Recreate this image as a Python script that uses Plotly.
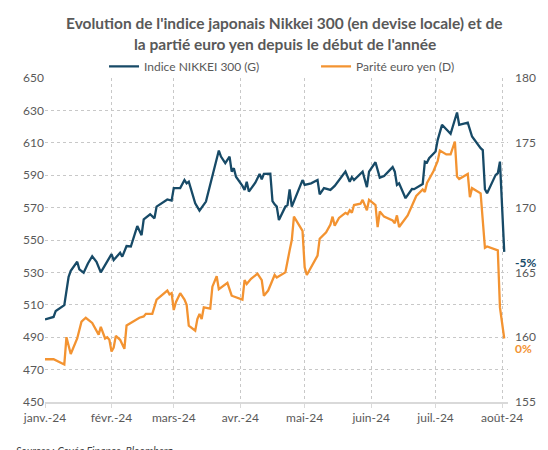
import plotly.graph_objects as go

# ---------------- data ----------------
nikkei_dates = [
    "2024-01-01", "2024-01-05", "2024-01-06", "2024-01-10", "2024-01-12", "2024-01-13",
    "2024-01-16", "2024-01-17", "2024-01-19", "2024-01-21", "2024-01-23", "2024-01-25",
    "2024-01-27", "2024-01-29", "2024-01-30", "2024-02-01", "2024-02-02", "2024-02-05",
    "2024-02-06", "2024-02-08", "2024-02-10", "2024-02-13", "2024-02-15", "2024-02-16",
    "2024-02-19", "2024-02-21", "2024-02-22", "2024-02-27", "2024-02-29", "2024-03-01",
    "2024-03-04", "2024-03-06", "2024-03-07", "2024-03-08", "2024-03-11", "2024-03-13",
    "2024-03-16", "2024-03-18", "2024-03-20", "2024-03-22", "2024-03-23", "2024-03-25",
    "2024-03-27", "2024-03-28", "2024-03-29", "2024-03-30", "2024-04-02", "2024-04-03",
    "2024-04-04", "2024-04-05", "2024-04-08", "2024-04-10", "2024-04-11", "2024-04-12",
    "2024-04-15", "2024-04-16", "2024-04-17", "2024-04-18", "2024-04-19", "2024-04-22",
    "2024-04-23", "2024-04-24", "2024-04-25", "2024-04-30", "2024-05-01", "2024-05-04",
    "2024-05-07", "2024-05-08", "2024-05-10", "2024-05-13", "2024-05-15", "2024-05-20",
    "2024-05-22", "2024-05-23", "2024-05-24", "2024-05-28", "2024-05-30", "2024-05-31",
    "2024-06-03", "2024-06-05", "2024-06-07", "2024-06-11", "2024-06-12", "2024-06-13",
    "2024-06-14", "2024-06-17", "2024-06-20", "2024-06-21", "2024-06-25", "2024-06-26",
    "2024-06-27", "2024-06-28", "2024-07-01", "2024-07-02", "2024-07-04", "2024-07-08",
    "2024-07-11", "2024-07-12", "2024-07-16", "2024-07-18", "2024-07-22", "2024-07-23",
    "2024-07-24", "2024-07-25", "2024-07-29", "2024-07-30", "2024-07-31", "2024-08-02",
]
nikkei_values = [
    501.0, 502.5, 506.2, 509.8, 527.3, 531.0,
    536.6, 531.9, 529.8, 535.5, 540.0, 536.6,
    530.0, 534.5, 536.6, 541.3, 537.6, 542.1,
    539.7, 546.3, 546.0, 558.6, 553.0, 562.8,
    565.9, 563.4, 570.6, 575.0, 574.3, 582.0,
    582.0, 587.0, 585.0, 586.0, 572.7, 568.1,
    573.7, 584.0, 593.3, 605.2, 601.5, 597.4,
    601.5, 592.2, 594.3, 589.1, 583.4, 580.9,
    586.0, 579.9, 585.4, 590.8, 587.5, 590.8,
    591.0, 574.0, 572.0, 570.6, 562.3, 570.6,
    571.5, 581.3, 570.6, 587.0, 584.0, 585.0,
    587.0, 578.2, 582.0, 580.9, 583.4, 592.2,
    586.0, 588.8, 587.0, 592.2, 582.6, 592.2,
    598.0, 588.5, 589.5, 595.0, 592.2, 584.0,
    585.0, 575.8, 581.5, 581.4, 584.6, 598.4,
    597.8, 600.5, 604.6, 611.8, 621.1, 615.5,
    628.7, 621.1, 622.5, 613.9, 606.7, 605.5,
    581.3, 578.9, 590.2, 591.2, 598.4, 542.7,
]

eurjpy_dates = [
    "2024-01-01", "2024-01-05", "2024-01-10", "2024-01-11", "2024-01-13", "2024-01-16",
    "2024-01-18", "2024-01-20", "2024-01-23", "2024-01-26", "2024-01-27", "2024-01-29",
    "2024-01-30", "2024-01-31", "2024-02-01", "2024-02-02", "2024-02-03", "2024-02-05",
    "2024-02-07", "2024-02-08", "2024-02-14", "2024-02-16", "2024-02-17", "2024-02-20",
    "2024-02-22", "2024-02-27", "2024-02-28", "2024-02-29", "2024-03-01", "2024-03-02",
    "2024-03-04", "2024-03-06", "2024-03-07", "2024-03-08", "2024-03-11", "2024-03-12",
    "2024-03-13", "2024-03-14", "2024-03-15", "2024-03-18", "2024-03-19", "2024-03-21",
    "2024-03-22", "2024-03-26", "2024-03-28", "2024-03-30", "2024-04-02", "2024-04-03",
    "2024-04-04", "2024-04-06", "2024-04-09", "2024-04-11", "2024-04-12", "2024-04-14",
    "2024-04-15", "2024-04-17", "2024-04-18", "2024-04-22", "2024-04-24", "2024-04-25",
    "2024-04-26", "2024-04-30", "2024-05-01", "2024-05-02", "2024-05-07", "2024-05-08",
    "2024-05-11", "2024-05-13", "2024-05-14", "2024-05-15", "2024-05-17", "2024-05-20",
    "2024-05-21", "2024-05-22", "2024-05-23", "2024-05-24", "2024-05-27", "2024-05-28",
    "2024-05-30", "2024-05-31", "2024-06-03", "2024-06-04", "2024-06-05", "2024-06-07",
    "2024-06-11", "2024-06-12", "2024-06-13", "2024-06-14", "2024-06-18", "2024-06-20",
    "2024-06-22", "2024-06-25", "2024-06-26", "2024-06-27", "2024-06-30", "2024-07-02",
    "2024-07-03", "2024-07-06", "2024-07-08", "2024-07-10", "2024-07-11", "2024-07-12",
    "2024-07-16", "2024-07-17", "2024-07-18", "2024-07-22", "2024-07-24", "2024-07-25",
    "2024-07-30", "2024-07-31", "2024-08-02",
]
eurjpy_values = [
    158.3, 158.3, 157.9, 160.0, 158.7, 159.9,
    161.2, 161.5, 161.1, 160.2, 160.8, 159.9,
    160.0, 159.8, 158.9, 159.2, 160.1, 159.8,
    159.1, 160.9, 161.5, 161.6, 161.8, 161.8,
    162.9, 163.6, 163.3, 163.4, 162.1, 162.7,
    163.4, 162.9, 162.5, 160.9, 160.5, 161.4,
    161.8, 161.4, 162.3, 162.2, 163.9, 164.7,
    163.7, 164.2, 163.2, 163.1, 162.9, 164.4,
    164.1, 164.5, 164.9, 164.4, 163.2, 163.6,
    164.0, 164.8, 164.6, 165.0, 166.7, 167.5,
    169.3, 168.2, 165.4, 164.8, 166.3, 167.6,
    168.1, 168.7, 169.3, 168.6, 169.2, 169.6,
    169.5, 169.8, 169.6, 170.2, 170.3, 170.6,
    169.8, 170.6, 170.2, 168.5, 169.7, 169.3,
    169.0, 168.8, 169.4, 168.5, 169.4, 170.1,
    170.9, 171.4, 171.2, 171.9, 172.8, 173.6,
    174.4, 174.1, 174.1, 175.1, 172.4, 172.2,
    172.6, 170.8, 171.5, 171.1, 166.9, 167.0,
    166.7, 162.3, 159.9,
]

month_ticks = ["2024-01-01", "2024-02-01", "2024-03-01", "2024-04-01",
               "2024-05-01", "2024-06-01", "2024-07-01", "2024-08-01"]
month_labels = ["janv.-24", "févr.-24", "mars-24", "avr.-24",
                "mai-24", "juin-24", "juil.-24", "août-24"]

series_names = ["Indice NIKKEI 300 (G)", "Parité euro yen (D)"]
end_labels = ["-5%", "0%"]
title_lines = ["Evolution de l'indice japonais Nikkei 300 (en devise locale) et de",
               "la partié euro yen depuis le début de l'année"]
source_text = "Sources : Covéa Finance, Bloomberg"

# ---------------- style ----------------
BLUE = "#174a67"
ORANGE = "#f39331"
GREY = "#595959"
GRID = "#c8c8c8"
FONT = "Lato"

fig = go.Figure()
fig.add_trace(go.Scatter(x=nikkei_dates, y=nikkei_values, name=series_names[0],
                         mode="lines", line=dict(color=BLUE, width=2.3), yaxis="y"))
fig.add_trace(go.Scatter(x=eurjpy_dates, y=eurjpy_values, name=series_names[1],
                         mode="lines", line=dict(color=ORANGE, width=2.3), yaxis="y2"))

annotations = [
    dict(text="<b>%s</b>" % title_lines[0], xref="paper", yref="paper", x=0.518, y=1.171,
         xanchor="center", yanchor="middle", showarrow=False,
         font=dict(family=FONT, size=15.5, color=GREY)),
    dict(text="<b>%s</b>" % title_lines[1], xref="paper", yref="paper", x=0.518, y=1.106,
         xanchor="center", yanchor="middle", showarrow=False,
         font=dict(family=FONT, size=15.5, color=GREY)),
    dict(text="<b>%s</b>" % end_labels[0], xref="x", yref="y", x=nikkei_dates[-1],
         y=nikkei_values[-1], xanchor="left", yanchor="middle", xshift=9, yshift=-11,
         showarrow=False, font=dict(family=FONT, size=12, color=BLUE)),
    dict(text="<b>%s</b>" % end_labels[1], xref="x", yref="y2", x=eurjpy_dates[-1],
         y=eurjpy_values[-1], xanchor="left", yanchor="middle", xshift=9, yshift=-10,
         showarrow=False, font=dict(family=FONT, size=12, color=ORANGE)),
    dict(text="<i>%s</i>" % source_text, xref="paper", yref="paper", x=-0.066, y=-0.127,
         xanchor="left", yanchor="top", showarrow=False,
         font=dict(family=FONT, size=10.5, color="#404040")),
]

# the page body adds an 8 px offset; the figure is sized so the plot lands
# on the same pixels as the reference
fig.update_layout(
    width=540, height=442,
    margin=dict(l=37, r=34, t=70, b=48),
    paper_bgcolor="white", plot_bgcolor="white",
    font=dict(family=FONT, size=12, color=GREY),
    showlegend=True,
    legend=dict(orientation="h", x=0.1275, y=1.036, xanchor="left", yanchor="middle",
                font=dict(family=FONT, size=12, color=GREY), bgcolor="rgba(0,0,0,0)",
                entrywidth=167, entrywidthmode="pixels", itemwidth=30),
    annotations=annotations,
    xaxis=dict(type="date", range=["2024-01-01", "2024-08-03 18:00"],
               tickmode="array", tickvals=month_ticks, ticktext=month_labels,
               showgrid=True, gridcolor=GRID, griddash="dot", gridwidth=1,
               showline=True, linecolor="#d9d9d9", linewidth=1.5,
               ticks="outside", ticklen=4, tickcolor="#d9d9d9",
               tickfont=dict(family=FONT, size=12, color=GREY), zeroline=False),
    yaxis=dict(range=[450, 650], tick0=450, dtick=20, showgrid=True, gridcolor=GRID,
               griddash="dot", gridwidth=1, zeroline=False, showline=False,
               ticks="", ticklen=0, tickfont=dict(family=FONT, size=12, color=GREY)),
    yaxis2=dict(range=[155, 180], tick0=155, dtick=5, overlaying="y", side="right",
                showgrid=False, zeroline=False, showline=False, ticks="", ticklen=0,
                ticklabelstandoff=6,
                tickfont=dict(family=FONT, size=12, color=GREY)),
)

fig.write_html("out.html")
